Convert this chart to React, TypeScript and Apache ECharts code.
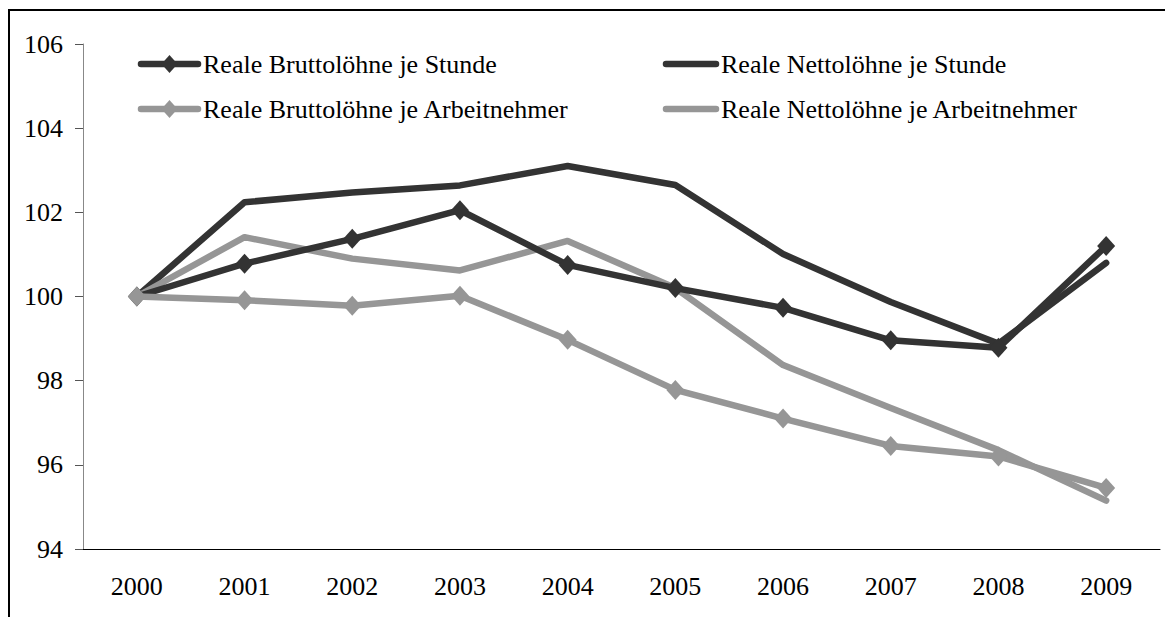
import React, { useEffect, useRef } from "react";
import * as echarts from "echarts";

const years = ["2000", "2001", "2002", "2003", "2004", "2005", "2006", "2007", "2008", "2009"];
const bruttoStunde = [100, 100.78, 101.37, 102.05, 100.75, 100.2, 99.73, 98.96, 98.78, 101.2];
const nettoStunde = [100, 102.24, 102.47, 102.64, 103.1, 102.65, 101.01, 99.87, 98.88, 100.8];
const bruttoAN = [100, 99.91, 99.78, 100.02, 98.97, 97.78, 97.1, 96.45, 96.2, 95.45];
const nettoAN = [100, 101.41, 100.9, 100.62, 101.32, 100.2, 98.37, 97.35, 96.35, 95.15];

const names = [
  "Reale Bruttolöhne je Stunde",
  "Reale Nettolöhne je Stunde",
  "Reale Bruttolöhne je Arbeitnehmer",
  "Reale Nettolöhne je Arbeitnehmer",
];

const DARK = "#333333";
const GRAY = "#969696";
const FONT = "Liberation Serif";
const FS = 26;
const LW = 6.5;

function legendItem(name: string, color: string, marker: boolean, x0: number, x1: number, y: number) {
  const children: any[] = [
    {
      type: "line",
      shape: { x1: x0, y1: y, x2: x1, y2: y },
      style: { stroke: color, lineWidth: LW, lineCap: "round" },
    },
  ];
  if (marker) {
    const cx = (x0 + x1) / 2;
    children.push({
      type: "polygon",
      shape: { points: [[cx, y - 9], [cx + 8, y], [cx, y + 9], [cx - 8, y]] },
      style: { fill: color },
    });
  }
  children.push({
    type: "text",
    x: x1 + 5,
    y,
    style: { text: name, fill: "#000", font: `${FS}px ${FONT}`, verticalAlign: "middle", align: "left" },
  });
  return { type: "group", silent: true, children };
}

export default function App() {
  const ref = useRef<HTMLDivElement>(null);
  useEffect(() => {
    document.body.style.margin = "0";
    const chart = echarts.init(ref.current!, null, { renderer: "svg" });
    const lineSeries = (name: string, data: number[], color: string, marker: boolean, z: number) => ({
      name,
      type: "line",
      data,
      z,
      color,
      symbol: marker ? "diamond" : "none",
      symbolSize: marker ? [18, 20] : 0,
      showSymbol: marker,
      lineStyle: { width: LW, color, cap: "round", join: "round" },
      itemStyle: { color },
      emphasis: { disabled: true },
    });
    chart.setOption({
      animation: false,
      textStyle: { fontFamily: FONT },
      grid: { left: 83, right: 5, top: 44, bottom: 68 },
      xAxis: {
        type: "category",
        data: years,
        boundaryGap: true,
        axisLine: { lineStyle: { color: "#000", width: 1 } },
        axisTick: { length: 8, lineStyle: { color: "#555" } },
        axisLabel: { fontFamily: FONT, fontSize: FS, color: "#000", margin: 24 },
      },
      yAxis: {
        type: "value",
        min: 94,
        max: 106,
        interval: 2,
        axisLine: { show: true, lineStyle: { color: "#888", width: 1 } },
        axisTick: { show: true, length: 8, lineStyle: { color: "#555" } },
        splitLine: { show: false },
        axisLabel: { fontFamily: FONT, fontSize: FS, color: "#000", margin: 20 },
      },
      series: [
        lineSeries(names[1], nettoStunde, DARK, false, 2),
        lineSeries(names[3], nettoAN, GRAY, false, 3),
        lineSeries(names[0], bruttoStunde, DARK, true, 4),
        lineSeries(names[2], bruttoAN, GRAY, true, 5),
      ],
      graphic: [
        {
          type: "rect",
          silent: true,
          shape: { x: 9, y: 10, width: 1300, height: 800 },
          style: { fill: "none", stroke: "#000", lineWidth: 2 },
        },
        legendItem(names[0], DARK, true, 141, 198, 64),
        legendItem(names[2], GRAY, true, 141, 198, 109),
        legendItem(names[1], DARK, false, 666, 716, 64),
        legendItem(names[3], GRAY, false, 666, 716, 109),
      ],
    });
    return () => chart.dispose();
  }, []);
  return <div ref={ref} style={{ width: 1165, height: 617 }} />;
}
